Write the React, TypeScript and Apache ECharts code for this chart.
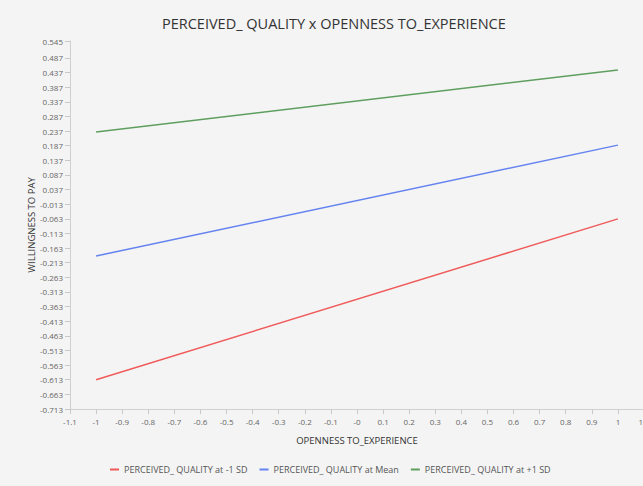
import React, { useEffect, useRef } from "react";
import * as echarts from "echarts";

const titleText = "PERCEIVED_ QUALITY x OPENNESS TO_EXPERIENCE";
const xAxisName = "OPENNESS TO_EXPERIENCE";
const yAxisName = "WILLINGNESS TO PAY";

const xValues = [-1, 1];
const seriesNames = [
  "PERCEIVED_ QUALITY at -1 SD",
  "PERCEIVED_ QUALITY at Mean",
  "PERCEIVED_ QUALITY at +1 SD",
];
const lowSD = [-0.613, -0.063];
const meanSD = [-0.19, 0.189];
const highSD = [0.234, 0.446];
const seriesColors = ["#f05a5a", "#6483f0", "#5e9e5e"];

const yTicks = [
  -0.713, -0.663, -0.613, -0.563, -0.513, -0.463, -0.413, -0.363, -0.313,
  -0.263, -0.213, -0.163, -0.113, -0.063, -0.013, 0.037, 0.087, 0.137, 0.187,
  0.237, 0.287, 0.337, 0.387, 0.437, 0.487, 0.545,
];
const xTicks = [
  -1.1, -1, -0.9, -0.8, -0.7, -0.6, -0.5, -0.4, -0.3, -0.2, -0.1, 0, 0.1, 0.2,
  0.3, 0.4, 0.5, 0.6, 0.7, 0.8, 0.9, 1, 1.1,
];
const xTickLabels = [
  "-1.1", "-1", "-0.9", "-0.8", "-0.7", "-0.6", "-0.5", "-0.4", "-0.3", "-0.2",
  "-0.1", "-0", "0.1", "0.2", "0.3", "0.4", "0.5", "0.6", "0.7", "0.8", "0.9",
  "1", "1.1",
];

const FONT = "'Open Sans', 'Noto Sans', sans-serif";

export default function App() {
  const ref = useRef<HTMLDivElement>(null);
  useEffect(() => {
    if (!ref.current) return;
    const chart = echarts.init(ref.current, undefined, { renderer: "svg" });
    const data = [lowSD, meanSD, highSD];
    chart.setOption({
      animation: false,
      backgroundColor: "#f4f4f4",
      textStyle: { fontFamily: FONT },
      title: {
        text: titleText,
        left: 157,
        top: 11,
        textStyle: { fontFamily: FONT, fontSize: 14.5, fontWeight: "normal", color: "#333" },
      },
      legend: {
        bottom: 7,
        left: 105,
        itemWidth: 9,
        itemHeight: 2,
        itemGap: 12,
        icon: "rect",
        textStyle: { fontFamily: FONT, fontSize: 9, color: "#555" },
        data: seriesNames,
      },
      grid: { left: 70, right: -1, top: 41, bottom: 77, containLabel: false, outerBoundsMode: "none" },
      xAxis: {
        type: "value",
        min: -1.1,
        max: 1.1,
        name: xAxisName,
        nameLocation: "middle",
        nameGap: 26,
        nameMoveOverlap: false,
        nameTextStyle: { fontFamily: FONT, fontSize: 9.5, color: "#333" },
        axisLine: { show: true, onZero: false, lineStyle: { color: "#d0d0d0" } },
        axisTick: { show: true, length: 5, customValues: xTicks, lineStyle: { color: "#c8c8c8" } },
        axisLabel: {
          customValues: xTicks,
          fontSize: 8,
          color: "#666",
          margin: 8,
          formatter: (v: number) => {
            const i = xTicks.findIndex((t) => Math.abs(t - v) < 1e-6);
            return i >= 0 ? xTickLabels[i] : String(v);
          },
        },
        splitLine: { show: false },
      },
      yAxis: {
        type: "value",
        min: -0.713,
        max: 0.545,
        name: yAxisName,
        nameLocation: "middle",
        nameGap: 34,
        nameMoveOverlap: false,
        nameTextStyle: { fontFamily: FONT, fontSize: 9.5, color: "#333" },
        axisLine: { show: true, onZero: false, lineStyle: { color: "#d0d0d0" } },
        axisTick: { show: true, length: 5, customValues: yTicks, lineStyle: { color: "#c8c8c8" } },
        axisLabel: {
          customValues: yTicks,
          fontSize: 8,
          color: "#666",
          margin: 7,
          formatter: (v: number) => v.toFixed(3),
        },
        splitLine: { show: false },
      },
      series: seriesNames.map((name, i) => ({
        name,
        type: "line",
        data: xValues.map((x, j) => [x, data[i][j]]),
        showSymbol: false,
        symbol: "none",
        lineStyle: { width: 1.5, color: seriesColors[i] },
        itemStyle: { color: seriesColors[i] },
      })),
    });
    return () => chart.dispose();
  }, []);
  return (
    <div
      ref={ref}
      style={{ position: "fixed", left: 0, top: 0, width: 643, height: 486 }}
    />
  );
}
